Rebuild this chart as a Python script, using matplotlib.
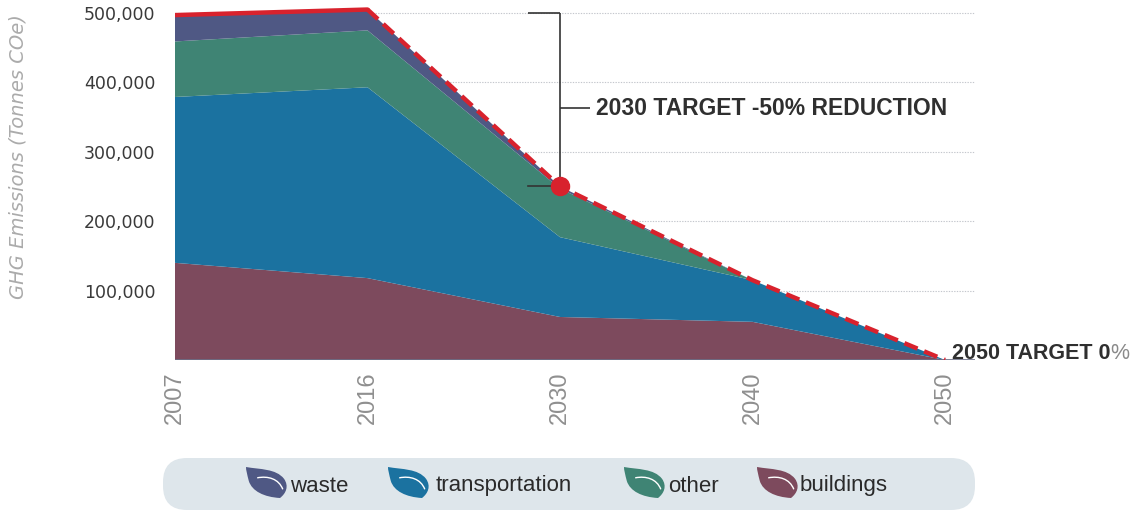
import matplotlib
matplotlib.use("Agg")
import matplotlib.pyplot as plt
from matplotlib.path import Path
from matplotlib.patches import PathPatch, FancyBboxPatch
from matplotlib.ticker import FuncFormatter
import numpy as np

# ---- data -------------------------------------------------------------
years = ["2007", "2016", "2030", "2040", "2050"]
buildings = [140000, 118000, 62000, 55000, 0]
transportation = [239000, 275000, 115000, 60000, 0]
other = [80000, 82000, 70000, 0, 0]
waste = [38000, 30000, 3000, 0, 0]
series_names = ["buildings", "transportation", "other", "waste"]
legend_order = ["waste", "transportation", "other", "buildings"]
yticks = [100000, 200000, 300000, 400000, 500000]
target_2030 = 250000
target_2050 = 0

colors = {
    "waste": "#4f5884",
    "transportation": "#1b72a0",
    "other": "#3f8474",
    "buildings": "#7d4a5d",
}
RED = "#d8222d"
FONT = ["Liberation Sans Narrow", "Liberation Sans"]

W, H = 1137, 511
fig = plt.figure(figsize=(W / 100, H / 100), dpi=100)

# axes box in pixel terms
ax_l, ax_r, ax_b, ax_t = 175, 975, 360, 0
ax = fig.add_axes([ax_l / W, (H - ax_b) / H, (ax_r - ax_l) / W, (ax_b - ax_t) / H])

x = np.arange(len(years))
stack = [buildings, transportation, other, waste]
ax.stackplot(x, *stack, colors=[colors[n] for n in series_names], linewidth=0, zorder=2)

total = np.sum(np.array(stack), axis=0)
# historical segment solid, projection dashed
ax.plot(x[:2], total[:2], color=RED, lw=3.2, solid_capstyle="round", zorder=4)
ax.plot(x[1:], total[1:], color=RED, lw=3.2, dashes=(3.2, 1.6), zorder=4)

ax.set_xlim(0, (ax_r - ax_l) / 192.5)
ax.set_ylim(0, 360 / 69.4 * 100000)

# gridlines
for yv in yticks:
    ax.axhline(yv, color="#c4c7cd", lw=0.8, ls=(0, (1.2, 1.2)), zorder=1)
ax.axhline(0, color="#6c7088", lw=1.2, zorder=3)

for s in ax.spines.values():
    s.set_visible(False)

ax.set_yticks(yticks)
ax.yaxis.set_major_formatter(FuncFormatter(lambda v, p: f"{int(v):,}"))
ax.tick_params(axis="y", length=0, pad=14, labelsize=12.5, labelcolor="#3a3a3a")
ax.set_xticks(x)
ax.set_xticklabels(years, rotation=90, fontsize=17, color="#8f8f8f",
                   fontfamily=["Liberation Sans", "DejaVu Sans"], fontweight="normal")
ax.tick_params(axis="x", length=0, pad=8)
for lab in ax.get_xticklabels():
    lab.set_verticalalignment("top")

fig.text(18 / W, 1 - 157 / H, "GHG Emissions (Tonnes COe)", rotation=90,
         ha="center", va="center", fontsize=14, style="italic", color="#ababab")

# 2030 target bracket
xb0, xb1 = (528 - ax_l) / 192.5, 2.0
line_kw = dict(color="#333333", lw=1.2, zorder=5, solid_capstyle="butt")
ax.plot([xb0, xb1], [500000, 500000], **line_kw)
ax.plot([xb1, xb1], [500000, target_2030], **line_kw)
ax.plot([xb0, xb1], [target_2030, target_2030], color="#333333", lw=1.2, zorder=3)
y_mid = 363000
ax.plot([xb1, (590 - ax_l) / 192.5], [y_mid, y_mid], **line_kw)
ax.plot([2], [target_2030], "o", ms=13, color=RED, zorder=6)
ax.text((596 - ax_l) / 192.5, y_mid, "2030 TARGET -50% REDUCTION",
        ha="left", va="center", fontsize=16.5, fontweight="bold", color="#2f2f2f",
        family=FONT, clip_on=False)

# 2050 target label
t = ax.text((952 - ax_l) / 192.5, 10000, "2050 TARGET 0", ha="left", va="center",
            fontsize=15.5, fontweight="bold", color="#2f2f2f",
            family=FONT, clip_on=False)
fig.canvas.draw()
bb = t.get_window_extent()
fig.text(bb.x1 / W, (bb.y0 + bb.y1) / 2 / H, "%", ha="left", va="center",
         fontsize=15.5, color="#8a8a8a", family=FONT)

# ---- legend strip ------------------------------------------------------
lax = fig.add_axes([0, 0, 1, 1], facecolor="none")
lax.set_xlim(0, W)
lax.set_ylim(H, 0)
lax.axis("off")

pill = FancyBboxPatch((163, 458), 812, 52, boxstyle="round,pad=0,rounding_size=24",
                      fc="#dee6eb", ec="none", zorder=1)
lax.add_patch(pill)


def leaf(ax_, x0, y0, w, h, color):
    # leaf body: pointed upper-left tip, rounded lower-left belly, tip at lower right
    def P(u, v):
        return (x0 + u * w, y0 + v * h)
    verts = [P(0.0, 0.0),
             P(0.35, 0.08), P(0.75, 0.05), P(0.95, 0.38),
             P(1.08, 0.62), P(1.0, 0.85), P(0.85, 1.0),
             P(0.45, 0.97), P(0.15, 0.78), P(0.07, 0.45),
             P(0.03, 0.25), P(0.0, 0.1), P(0.0, 0.0),
             P(0.0, 0.0)]
    codes = [Path.MOVETO,
             Path.CURVE4, Path.CURVE4, Path.CURVE4,
             Path.CURVE4, Path.CURVE4, Path.CURVE4,
             Path.CURVE4, Path.CURVE4, Path.CURVE4,
             Path.CURVE4, Path.CURVE4, Path.CURVE4,
             Path.CLOSEPOLY]
    ax_.add_patch(PathPatch(Path(verts, codes), fc=color, ec="none", zorder=2))
    vein = [P(0.28, 0.35), P(0.55, 0.28), P(0.82, 0.38), P(0.92, 0.72)]
    ax_.add_patch(PathPatch(Path(vein, [Path.MOVETO, Path.CURVE4, Path.CURVE4, Path.CURVE4]),
                            fc="none", ec="white", lw=1.0, zorder=3))


leaf_x = {"waste": 246, "transportation": 388, "other": 624, "buildings": 757}
text_x = {"waste": 290, "transportation": 436, "other": 668, "buildings": 800}
for name in legend_order:
    leaf(lax, leaf_x[name], 467, 40, 31, colors[name])
    lax.text(text_x[name], 486, name, ha="left", va="center", fontsize=16,
             color="#2a2a2a", family=FONT, zorder=4)

fig.savefig("out.png", dpi=100, facecolor="white")
